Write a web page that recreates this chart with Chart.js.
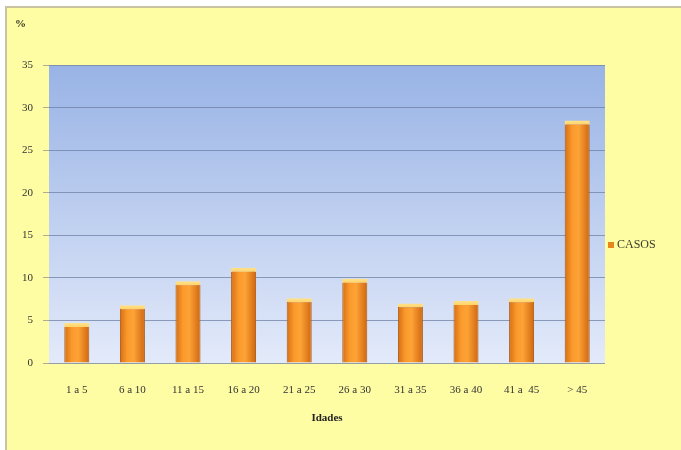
<!DOCTYPE html>
<html lang="pt">
  <head>
    <meta charset="UTF-8" />
    <title>Casos por idades</title>
    <script src="https://cdn.jsdelivr.net/npm/chart.js"></script>
    <style>
      body {
        margin: 0;
        background: #ffffff;
        width: 681px;
        height: 450px;
        overflow: hidden;
        position: relative;
      }
      .frame {
        position: absolute;
        left: 5px;
        top: 6px;
        width: 690px;
        height: 460px;
        background: #fffda4;
        border: 2px solid #c9c3a2;
      }
      .chart-box {
        position: absolute;
        left: 0;
        top: 0;
        width: 681px;
        height: 450px;
      }
      .legend {
        position: absolute;
        left: 608px;
        top: 237px;
        font-family: "Liberation Serif", serif;
        font-size: 12px;
        color: #3a3a2a;
        display: flex;
        align-items: center;
      }
      .legend span.box {
        width: 6px;
        height: 6px;
        background: #e7861d;
        margin-right: 3px;
      }
    </style>
  </head>
  <body>
    <div class="frame"></div>
    <div class="chart-box">
      <canvas id="idadesChart" width="681" height="450"></canvas>
    </div>
    <div class="legend"><span class="box"></span>CASOS</div>

    <script>
      const categorias = ["1 a 5", "6 a 10", "11 a 15", "16 a 20", "21 a 25", "26 a 30", "31 a 35", "36 a 40", "41 a  45", "> 45"];
      const casos = [4.7, 6.8, 9.6, 11.2, 7.6, 9.9, 7.0, 7.3, 7.6, 28.5];
      const yTicks = [0, 5, 10, 15, 20, 25, 30, 35];

      const barPct = 0.45;
      const serif = "'Liberation Serif', 'Times New Roman', serif";

      // fundo azul em degradê da área do gráfico
      const plotBackground = {
        id: "plotBackground",
        beforeDatasetsDraw(chart) {
          const { ctx, chartArea: a } = chart;
          const g = ctx.createLinearGradient(0, a.top, 0, a.bottom);
          g.addColorStop(0, "#98b3e5");
          g.addColorStop(1, "#e3eafa");
          ctx.save();
          ctx.globalCompositeOperation = "destination-over";
          ctx.fillStyle = g;
          ctx.fillRect(a.left, a.top, a.right - a.left, a.bottom - a.top);
          ctx.restore();
        },
      };

      function barHalfWidth(chart) {
        const x = chart.scales.x;
        return ((x.right - x.left) / categorias.length) * barPct / 2;
      }

      // degradê horizontal (efeito cilíndrico) de cada barra
      function barFill(c) {
        const chart = c.chart;
        if (c.type !== "data" || !chart.scales.x) return "#f39425";
        const cx = chart.scales.x.getPixelForValue(c.dataIndex);
        const h = barHalfWidth(chart);
        if (!isFinite(cx) || !isFinite(h) || h <= 0) return "#f39425";
        const g = chart.ctx.createLinearGradient(cx - h, 0, cx + h, 0);
        g.addColorStop(0, "#d66e12");
        g.addColorStop(0.3, "#fb9a2c");
        g.addColorStop(0.55, "#fda336");
        g.addColorStop(1, "#d0660f");
        return g;
      }

      // borda escura com faixa clara no topo
      function barEdge(c) {
        const chart = c.chart;
        if (c.type !== "data" || !chart.scales.y) return "#a8560c";
        const top = chart.scales.y.getPixelForValue(casos[c.dataIndex]);
        const base = chart.scales.y.getPixelForValue(0);
        if (!isFinite(top) || !isFinite(base) || base <= top) return "#a8560c";
        const g = chart.ctx.createLinearGradient(0, top, 0, base);
        const t = Math.min(4 / (base - top), 1);
        g.addColorStop(0, "#ffe38a");
        g.addColorStop(t, "#ffd36a");
        g.addColorStop(t, "#b55d0e");
        g.addColorStop(1, "#a4520b");
        return g;
      }

      new Chart(document.getElementById("idadesChart"), {
        type: "bar",
        data: {
          labels: categorias,
          datasets: [
            {
              label: "CASOS",
              data: casos,
              backgroundColor: barFill,
              borderColor: barEdge,
              borderWidth: { top: 4, left: 1, right: 1, bottom: 0 },
              borderSkipped: false,
              barPercentage: barPct,
              categoryPercentage: 1,
            },
          ],
        },
        options: {
          responsive: false,
          animation: false,
          layout: { padding: { left: 15, right: 76, top: 0, bottom: 0 } },
          plugins: {
            legend: { display: false },
            tooltip: { enabled: false },
            title: {
              display: true,
              text: "%",
              align: "start",
              color: "#333322",
              font: { family: serif, size: 11, weight: "bold" },
              padding: { top: 18, bottom: 34 },
            },
          },
          scales: {
            x: {
              afterFit(scale) {
                scale.height = 87;
              },
              grid: { display: false, drawTicks: false },
              border: { display: false },
              ticks: {
                color: "#333333",
                font: { family: serif, size: 11 },
                padding: 21,
                maxRotation: 0,
                autoSkip: false,
              },
              title: {
                display: true,
                text: "Idades",
                color: "#222222",
                font: { family: serif, size: 11, weight: "bold" },
                padding: { top: 15, bottom: 25 },
              },
            },
            y: {
              min: 0,
              max: 35,
              afterFit(scale) {
                scale.width = 34;
              },
              afterBuildTicks(scale) {
                scale.ticks = yTicks.map((v) => ({ value: v }));
              },
              grid: {
                color: "rgba(110, 128, 165, 0.75)",
                tickLength: 6,
                tickColor: "rgba(150, 150, 140, 0.8)",
              },
              border: { display: false },
              ticks: {
                color: "#333333",
                font: { family: serif, size: 11 },
                padding: 10,
              },
            },
          },
        },
        plugins: [plotBackground],
      });
    </script>
  </body>
</html>
